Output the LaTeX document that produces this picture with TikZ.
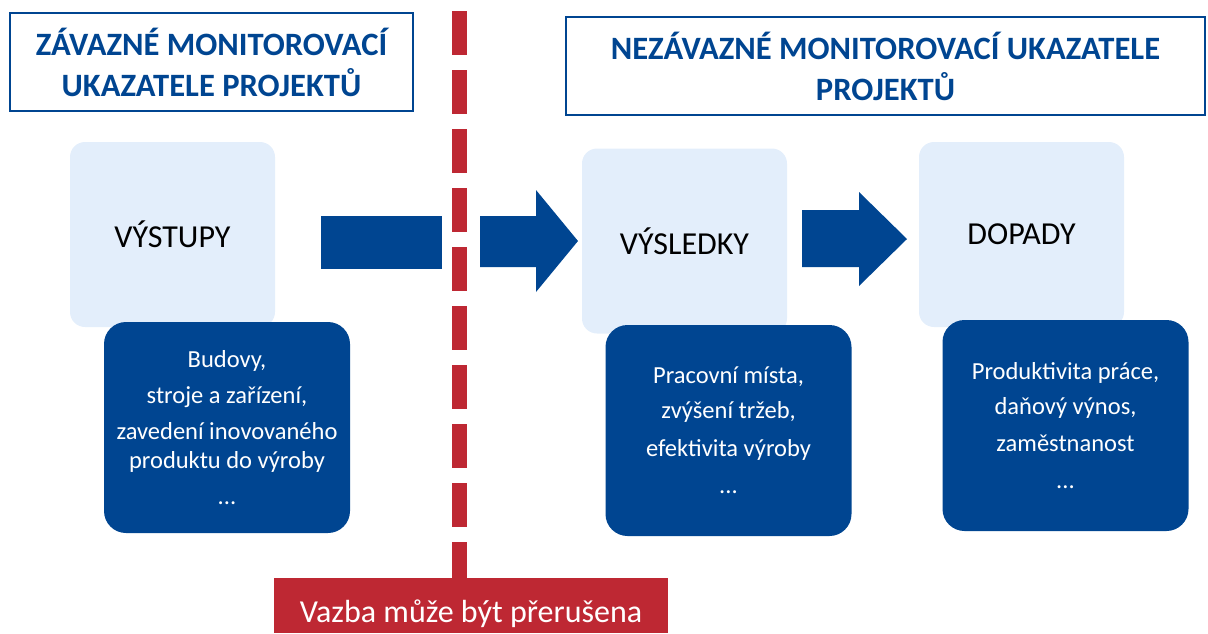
\documentclass[tikz,border=0pt]{standalone}
\usepackage{fontspec}
\setmainfont{Carlito}
\definecolor{ukblue}{RGB}{0,69,145}
\definecolor{ukred}{RGB}{190,40,51}
\definecolor{uklight}{RGB}{227,238,251}

\begin{document}
\begin{tikzpicture}[x=1pt,y=-1pt,
    titlebox/.style={draw=ukblue,line width=2pt,text=ukblue,align=center,inner sep=0pt,font=\fontsize{32.6}{41}\selectfont\bfseries},
    stagebox/.style={fill=uklight,rounded corners=15pt,minimum width=205pt,minimum height=185pt,inner sep=0pt,font=\fontsize{32}{38}\selectfont},
    listbox/.style={fill=ukblue,text=white,rounded corners=22pt,minimum width=246pt,minimum height=211pt,align=center,inner sep=0pt,font=\fontsize{24.5}{28.5}\selectfont}]
    \useasboundingbox (0,0) rectangle (1208,633);
    % titles
    \node[titlebox,minimum width=403pt,minimum height=98pt] (zavazne) at (211.5,62) {ZÁVAZNÉ MONITOROVACÍ\\UKAZATELE PROJEKTŮ};
    \node[titlebox,minimum width=639pt,minimum height=98pt] (nezavazne) at (885.5,66) {NEZÁVAZNÉ MONITOROVACÍ UKAZATELE\\PROJEKTŮ};
    % stages
    \node[stagebox] (vystupy) at (172.5,234.5) {VÝSTUPY};
    \node[stagebox] (vysledky) at (684.5,241) {VÝSLEDKY};
    \node[stagebox] (dopady) at (1021.5,234.5) {DOPADY};
    \node[listbox] (vystupylist) at (227,427.5) {Budovy,\\[7.5pt]stroje a zařízení,\\[7.5pt]zavedení inovovaného\\produktu do výroby\\[7.5pt]...};
    \node[listbox] (vysledkylist) at (728.5,430.5) {Pracovní místa,\\[6.5pt]zvýšení tržeb,\\[9.5pt]efektivita výroby\\[8.5pt]...};
    \node[listbox] (dopadylist) at (1065.5,425.5) {Produktivita práce,\\[6.5pt]daňový výnos,\\[8.5pt]zaměstnanost\\[8.5pt]...};
    % arrows
    \fill[ukblue] (321,216) rectangle (442,269);
    \fill[ukblue] (480,216) -- (536,216) -- (536,190) -- (578,241) -- (536,292) -- (536,267) -- (480,267) -- cycle;
    \fill[ukblue] (802,210) -- (859,210) -- (859,192) -- (907,239) -- (859,286) -- (859,267) -- (802,267) -- cycle;
    % break
    \node[fill=ukred,text=white,minimum width=394pt,minimum height=55pt,inner sep=0pt,text height=33pt,text depth=0pt,font=\fontsize{32}{38}\selectfont] (vazba) at (471,605.5) {Vazba může být přerušena};
    \coordinate (breaktop) at (459.5,11);
    \draw[ukred,line width=15pt,dash pattern=on 44pt off 15pt] (breaktop) -- (breaktop |- vazba.north);
\end{tikzpicture}
\end{document}
